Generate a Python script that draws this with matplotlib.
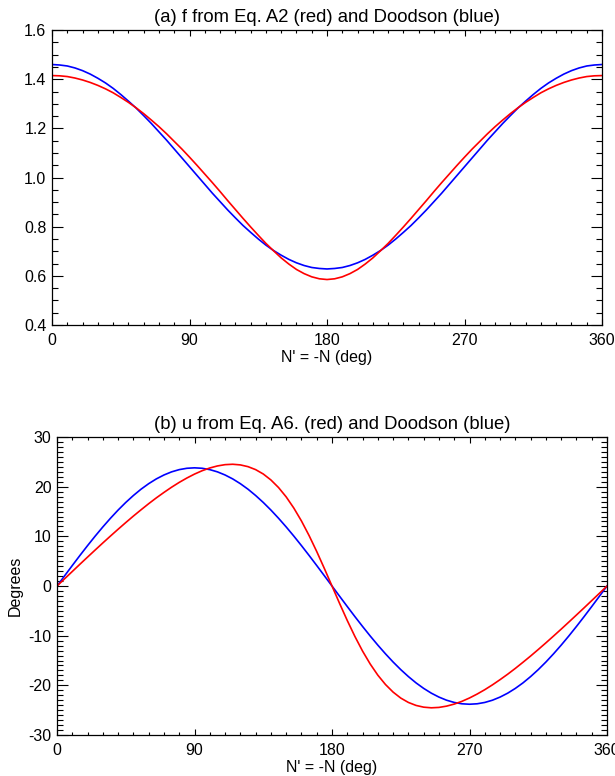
import matplotlib.pyplot as plt
from matplotlib.ticker import MultipleLocator

plt.rcParams['font.family'] = ['Liberation Sans', 'DejaVu Sans']
plt.rcParams['axes.unicode_minus'] = False

# N' = -N, sampled every 5 deg
n_deg = list(range(0, 361, 5))

# (a) nodal factor f
f_red = [1.415, 1.414, 1.411, 1.405, 1.397, 1.387, 1.375, 1.361, 1.345, 1.326,
         1.306, 1.284, 1.260, 1.234, 1.207, 1.178, 1.147, 1.116, 1.083, 1.049,
         1.014, 0.979, 0.943, 0.906, 0.870, 0.834, 0.799, 0.765, 0.732, 0.702,
         0.673, 0.648, 0.626, 0.609, 0.596, 0.588, 0.585,
         0.588, 0.596, 0.609, 0.626, 0.648, 0.673, 0.702, 0.732, 0.765, 0.799,
         0.834, 0.870, 0.906, 0.943, 0.979, 1.014, 1.049, 1.083, 1.116, 1.147,
         1.178, 1.207, 1.234, 1.260, 1.284, 1.306, 1.326, 1.345, 1.361, 1.375,
         1.387, 1.397, 1.405, 1.411, 1.414, 1.415]
f_blue = [1.460, 1.458, 1.454, 1.446, 1.435, 1.421, 1.404, 1.385, 1.363, 1.338,
          1.311, 1.283, 1.252, 1.220, 1.186, 1.152, 1.116, 1.080, 1.044, 1.008,
          0.972, 0.936, 0.902, 0.868, 0.836, 0.805, 0.777, 0.750, 0.725, 0.703,
          0.684, 0.667, 0.653, 0.642, 0.634, 0.630, 0.628,
          0.630, 0.634, 0.642, 0.653, 0.667, 0.684, 0.703, 0.725, 0.750, 0.777,
          0.805, 0.836, 0.868, 0.902, 0.936, 0.972, 1.008, 1.044, 1.080, 1.116,
          1.152, 1.186, 1.220, 1.252, 1.283, 1.311, 1.338, 1.363, 1.385, 1.404,
          1.421, 1.435, 1.446, 1.454, 1.458, 1.460]

# (b) nodal angle u (degrees)
u_red = [0.0, 1.47, 2.93, 4.39, 5.83, 7.26, 8.68, 10.07, 11.44, 12.78,
         14.09, 15.35, 16.58, 17.75, 18.85, 19.90, 20.87, 21.75, 22.54, 23.22,
         23.77, 24.18, 24.44, 24.52, 24.39, 24.04, 23.44, 22.56, 21.36, 19.83,
         17.95, 15.70, 13.10, 10.16, 6.95, 3.53, 0.0,
         -3.53, -6.95, -10.16, -13.10, -15.70, -17.95, -19.83, -21.36, -22.56, -23.44,
         -24.04, -24.39, -24.52, -24.44, -24.18, -23.77, -23.22, -22.54, -21.75, -20.87,
         -19.90, -18.85, -17.75, -16.58, -15.35, -14.09, -12.78, -11.44, -10.07, -8.68,
         -7.26, -5.83, -4.39, -2.93, -1.47, 0.0]
u_blue = [0.0, 2.07, 4.13, 6.16, 8.14, 10.06, 11.90, 13.65, 15.30, 16.83,
          18.23, 19.50, 20.61, 21.57, 22.36, 22.99, 23.44, 23.71, 23.80, 23.71,
          23.44, 22.99, 22.36, 21.57, 20.61, 19.50, 18.23, 16.83, 15.30, 13.65,
          11.90, 10.06, 8.14, 6.16, 4.13, 2.07, 0.0,
          -2.07, -4.13, -6.16, -8.14, -10.06, -11.90, -13.65, -15.30, -16.83, -18.23,
          -19.50, -20.61, -21.57, -22.36, -22.99, -23.44, -23.71, -23.80, -23.71, -23.44,
          -22.99, -22.36, -21.57, -20.61, -19.50, -18.23, -16.83, -15.30, -13.65, -11.90,
          -10.06, -8.14, -6.16, -4.13, -2.07, 0.0]


def style_axes(ax, ymajor, yminor):
    ax.set_xlim(0, 360)
    ax.xaxis.set_major_locator(MultipleLocator(90))
    ax.xaxis.set_minor_locator(MultipleLocator(10))
    ax.yaxis.set_major_locator(MultipleLocator(ymajor))
    ax.yaxis.set_minor_locator(MultipleLocator(yminor))
    ax.tick_params(which='both', direction='in', top=True, right=True,
                   labelsize=11.5, width=0.8)
    ax.tick_params(axis='x', which='major', length=4.3, pad=6)
    ax.tick_params(axis='x', which='minor', length=2.2)
    ax.tick_params(axis='y', which='major', length=8, pad=4)
    ax.tick_params(axis='y', which='minor', length=4)
    for s in ax.spines.values():
        s.set_linewidth(0.9)
    ax.set_xlabel("N' = -N (deg)", fontsize=11.5, labelpad=1)


def main():
    fig = plt.figure(figsize=(6.15, 7.76), dpi=100)

    ax1 = fig.add_axes([0.0846, 0.5812, 0.8943, 0.380])
    ax1.plot(n_deg, f_blue, color='blue', lw=1.2)
    ax1.plot(n_deg, f_red, color='red', lw=1.2)
    ax1.set_ylim(0.4, 1.6)
    style_axes(ax1, 0.2, 0.05)
    ax1.set_title("(a) f from Eq. A2 (red) and Doodson (blue)", fontsize=13.3, pad=6)

    ax2 = fig.add_axes([0.0927, 0.0528, 0.8943, 0.384])
    ax2.plot(n_deg, u_blue, color='blue', lw=1.2)
    ax2.plot(n_deg, u_red, color='red', lw=1.2)
    ax2.set_ylim(-30, 30)
    style_axes(ax2, 10, 1)
    ax2.set_ylabel("Degrees", fontsize=11.5, labelpad=4)
    ax2.set_title("(b) u from Eq. A6. (red) and Doodson (blue)", fontsize=13.3, pad=6)

    fig.savefig("out.png", dpi=100)


if __name__ == "__main__":
    main()
